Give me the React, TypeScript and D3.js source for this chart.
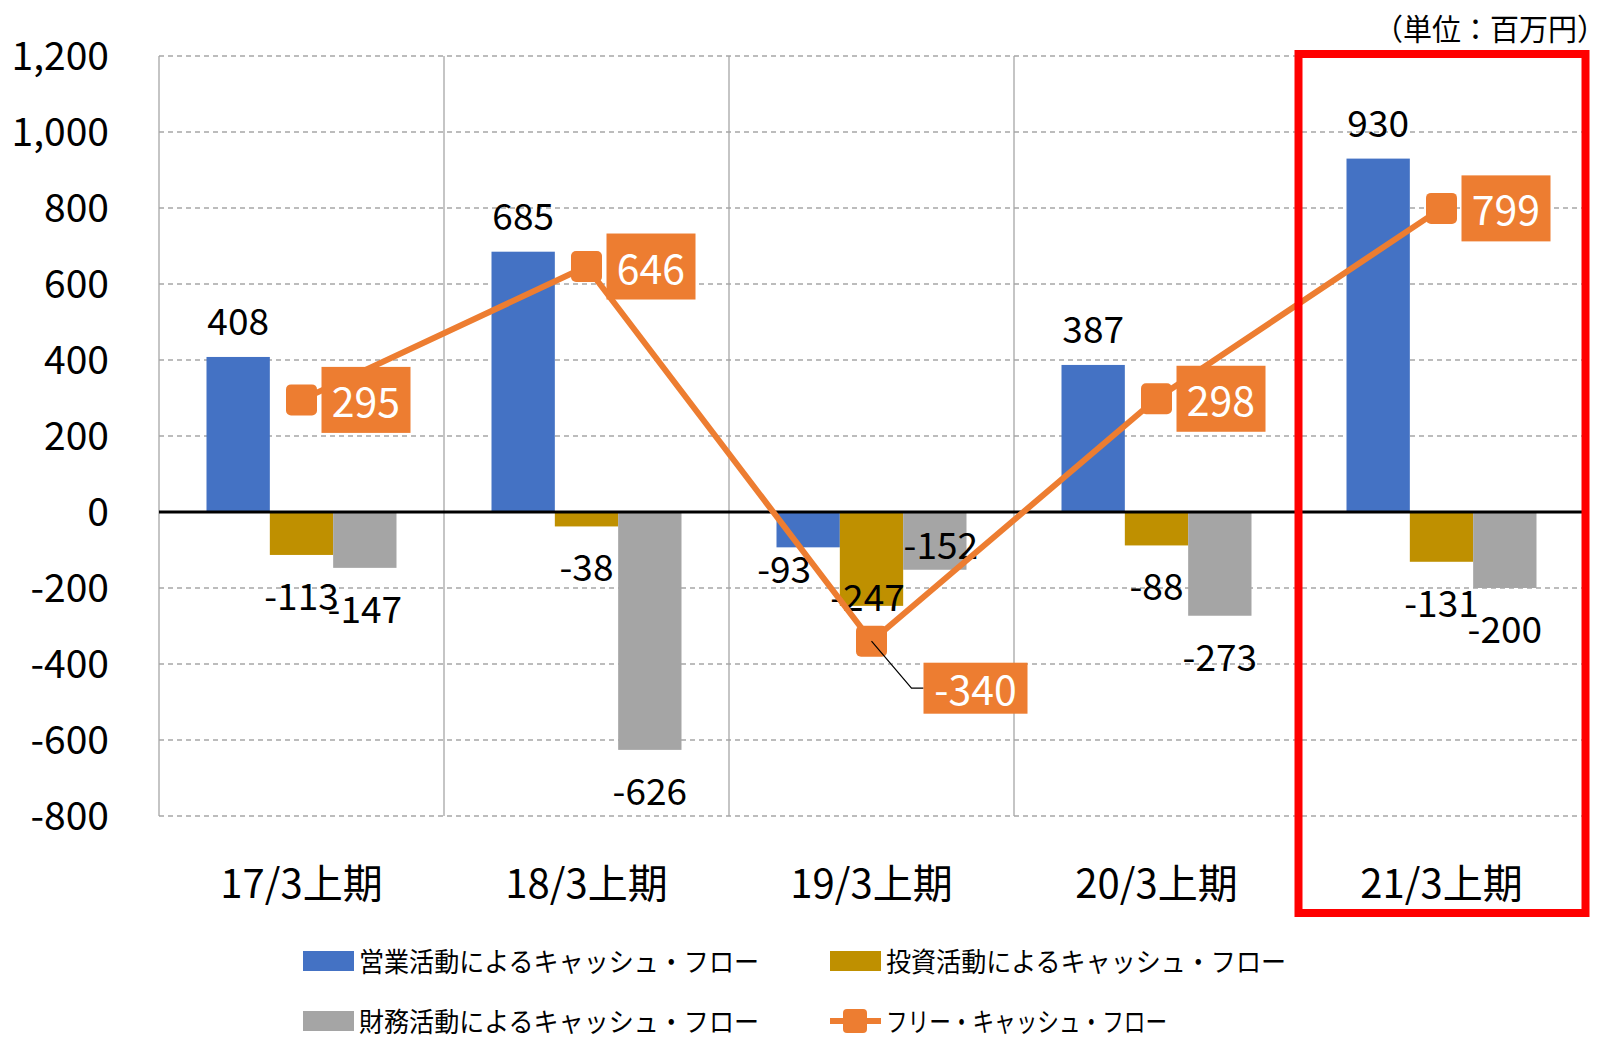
import React, { useEffect } from "react";
import * as d3 from "d3";

// data (単位：百万円)
const categories = ["17/3上期", "18/3上期", "19/3上期", "20/3上期", "21/3上期"];
const operating = [408, 685, -93, 387, 930];
const investing = [-113, -38, -247, -88, -131];
const financing = [-147, -626, -152, -273, -200];
const freeCF = [295, 646, -340, 298, 799];
const yTicks = [-800, -600, -400, -200, 0, 200, 400, 600, 800, 1000, 1200];

const barSeries = [
  { key: "op", name: "営業活動によるキャッシュ・フロー", color: "#4472C4", values: operating },
  { key: "inv", name: "投資活動によるキャッシュ・フロー", color: "#BF9000", values: investing },
  { key: "fin", name: "財務活動によるキャッシュ・フロー", color: "#A5A5A5", values: financing },
];
const lineName = "フリー・キャッシュ・フロー";
const orange = "#ED7D31";
const font = "'Noto Sans CJK JP', 'Noto Sans', sans-serif";

const width = 1610;
const height = 1038;

// manual nudges for crowded labels in 19/3上期 (dx, dy from the default spot)
const labelNudge: Record<string, [number, number]> = {
  "op-2": [-24, -19],
  "inv-2": [-4, -50],
  "fin-2": [6, -66],
};

const App = () => {
  useEffect(() => {
    document.body.style.margin = "0";
  }, []);

  const y = d3.scaleLinear().domain([-800, 1200]).range([816, 56]);
  const x0 = d3.scaleBand<string>().domain(categories).range([159, 1584]);
  const x1 = d3
    .scaleBand<string>()
    .domain(barSeries.map((s) => s.key))
    .range([0, x0.bandwidth()])
    .paddingInner(0)
    .paddingOuter(0.75);
  const cx = (c: string) => (x0(c) as number) + x0.bandwidth() / 2;

  const line = d3
    .line<number>()
    .x((_, i) => cx(categories[i]))
    .y((d) => y(d));

  const last = categories[categories.length - 1];

  return (
    <svg width={width} height={height} style={{ display: "block", background: "#fff" }} fontFamily={font}>
      {/* grid */}
      {yTicks.map((t) => (
        <line
          key={"g" + t}
          x1={159}
          x2={1584}
          y1={y(t)}
          y2={y(t)}
          stroke="#a6a6a6"
          strokeWidth={1.3}
          strokeDasharray="5 4"
        />
      ))}
      {categories.map((c) => (
        <line key={"v" + c} x1={x0(c)} x2={x0(c)} y1={y(1200)} y2={y(-800)} stroke="#a6a6a6" strokeWidth={1.3} />
      ))}
      <line x1={1584} x2={1584} y1={y(1200)} y2={y(-800)} stroke="#a6a6a6" strokeWidth={1.3} />

      {/* y tick labels */}
      {yTicks.map((t) => (
        <text key={"t" + t} x={109} y={y(t) - 3} textAnchor="end" dominantBaseline="central" fontSize={39} fill="#000">
          {d3.format(",")(t).replace("−", "-")}
        </text>
      ))}

      {/* bars */}
      {barSeries.map((s) =>
        s.values.map((v, i) => {
          const bx = (x0(categories[i]) as number) + (x1(s.key) as number);
          return (
            <rect
              key={s.key + i}
              x={bx}
              y={Math.min(y(v), y(0))}
              width={x1.bandwidth()}
              height={Math.abs(y(v) - y(0))}
              fill={s.color}
            />
          );
        })
      )}

      {/* zero line */}
      <line x1={159} x2={1584} y1={y(0)} y2={y(0)} stroke="#000" strokeWidth={3} />

      {/* bar labels */}
      {barSeries.map((s) =>
        s.values.map((v, i) => {
          const bx = (x0(categories[i]) as number) + (x1(s.key) as number) + x1.bandwidth() / 2;
          const by = v >= 0 ? y(v) - 38 : y(v) + 39;
          const [dx, dy] = labelNudge[s.key + "-" + i] || [0, 0];
          return (
            <text
              key={"l" + s.key + i}
              x={bx + dx}
              y={by + dy}
              textAnchor="middle"
              dominantBaseline="central"
              fontSize={37}
              fill="#000"
            >
              {v}
            </text>
          );
        })
      )}

      {/* free cash flow line */}
      <path d={line(freeCF) as string} fill="none" stroke={orange} strokeWidth={6} strokeLinejoin="round" />
      {freeCF.map((v, i) => (
        <rect
          key={"m" + i}
          x={cx(categories[i]) - 15.5}
          y={y(v) - 15.5}
          width={31}
          height={31}
          rx={5}
          fill={orange}
        />
      ))}

      {/* free cash flow labels */}
      {freeCF.map((v, i) => {
        const px = cx(categories[i]);
        const py = y(v);
        const txt = String(v);
        const w = txt.length * 15 + 44;
        const below = v < 0;
        const bx = below ? px + 52 : px + 20;
        const bcy = below ? py + 47 : py;
        const bh = below ? 51 : 66;
        return (
          <g key={"fl" + i}>
            {below && (
              <polyline
                points={`${px},${py} ${px + 40},${bcy} ${bx},${bcy}`}
                fill="none"
                stroke="#000"
                strokeWidth={1.2}
              />
            )}
            <rect x={bx} y={bcy - bh / 2} width={w} height={bh} fill={orange} />
            <text
              x={bx + w / 2}
              y={bcy - 1}
              textAnchor="middle"
              dominantBaseline="central"
              fontSize={41}
              fill="#fff"
            >
              {txt}
            </text>
          </g>
        );
      })}

      {/* category labels */}
      {categories.map((c) => (
        <text key={"c" + c} x={cx(c)} y={881} textAnchor="middle" dominantBaseline="central" fontSize={40} fill="#000">
          {c}
        </text>
      ))}

      {/* highlight */}
      <rect
        x={(x0(last) as number) - 0.5}
        y={y(1200) - 2}
        width={x0.bandwidth() + 2}
        height={913 - y(1200) + 2}
        fill="none"
        stroke="#FF0000"
        strokeWidth={8}
      />

      {/* unit */}
      <text x={1374} y={27} dominantBaseline="central" fontSize={30} fill="#000" textLength={232} lengthAdjust="spacingAndGlyphs">
        （単位：百万円）
      </text>

      {/* legend */}
      {barSeries.map((s, i) => {
        const lx = i === 1 ? 830 : 303;
        const ly = i === 2 ? 1021 : 961;
        return (
          <g key={"lg" + s.key}>
            <rect x={lx} y={ly - 10} width={51} height={20} fill={s.color} />
            <text
              x={lx + 56}
              y={ly - 1}
              dominantBaseline="central"
              fontSize={27}
              fill="#000"
              textLength={400}
              lengthAdjust="spacingAndGlyphs"
            >
              {s.name}
            </text>
          </g>
        );
      })}
      <g>
        <line x1={830} x2={881} y1={1021} y2={1021} stroke={orange} strokeWidth={6} />
        <rect x={843} y={1009} width={24} height={24} rx={4} fill={orange} />
        <text
          x={886}
          y={1020}
          dominantBaseline="central"
          fontSize={27}
          fill="#000"
          textLength={281}
          lengthAdjust="spacingAndGlyphs"
        >
          {lineName}
        </text>
      </g>
    </svg>
  );
};

export default App;
